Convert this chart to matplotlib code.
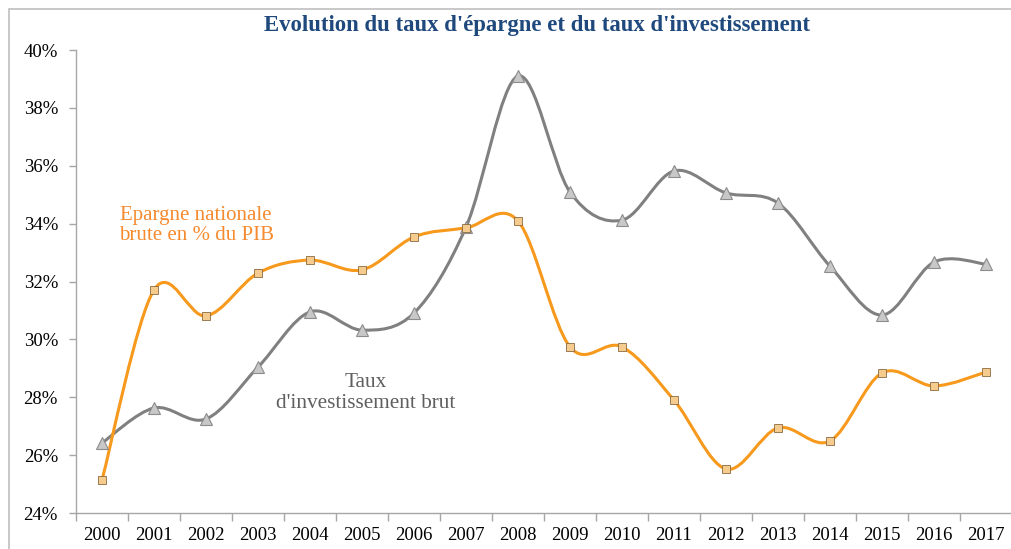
import matplotlib
matplotlib.use("Agg")
import matplotlib.pyplot as plt
from matplotlib.path import Path
from matplotlib.patches import PathPatch, Rectangle
from matplotlib.ticker import FixedLocator, NullFormatter

years = ["2000", "2001", "2002", "2003", "2004", "2005", "2006", "2007", "2008",
         "2009", "2010", "2011", "2012", "2013", "2014", "2015", "2016", "2017"]
investissement = [26.42, 27.63, 27.25, 29.04, 30.95, 30.32, 30.91, 33.88, 39.10,
                  35.09, 34.12, 35.82, 35.06, 34.71, 32.53, 30.84, 32.67, 32.60]
epargne = [25.14, 31.71, 30.81, 32.29, 32.74, 32.40, 33.54, 33.85, 34.09,
           29.74, 29.74, 27.90, 25.52, 26.94, 26.49, 28.84, 28.39, 28.87]
yticks = [24, 26, 28, 30, 32, 34, 36, 38, 40]

title = "Evolution du taux d'épargne et du taux d'investissement"
label_ep = "Epargne nationale\nbrute en % du PIB"
label_inv = "Taux\nd'investissement brut"

serif = ["Liberation Serif", "DejaVu Serif"]

W, H = 1011, 549
fig = plt.figure(figsize=(W / 100, H / 100), dpi=100)
fig.patches.append(Rectangle((9 / W, -0.1), 1.1, 1 - 9 / H + 0.1, transform=fig.transFigure,
                             fill=False, edgecolor="#BFBFBF", linewidth=1.2))
ax = fig.add_axes([76 / W, 1 - 513 / H, (1012 - 76) / W, (513 - 50) / H])


def smooth_path(xs, ys):
    pts = list(zip(xs, ys))
    n = len(pts)
    verts = [pts[0]]
    codes = [Path.MOVETO]
    for i in range(n - 1):
        p0 = pts[i - 1] if i > 0 else pts[i]
        p1 = pts[i]
        p2 = pts[i + 1]
        p3 = pts[i + 2] if i + 2 < n else pts[i + 1]
        c1 = (p1[0] + (p2[0] - p0[0]) / 6, p1[1] + (p2[1] - p0[1]) / 6)
        c2 = (p2[0] - (p3[0] - p1[0]) / 6, p2[1] - (p3[1] - p1[1]) / 6)
        verts += [c1, c2, p2]
        codes += [Path.CURVE4] * 3
    return Path(verts, codes)


x = list(range(len(years)))
gray = "#808080"
orange = "#F7991C"

ax.add_patch(PathPatch(smooth_path(x, investissement), facecolor="none",
                       edgecolor=gray, linewidth=2.2, zorder=2))
ax.add_patch(PathPatch(smooth_path(x, epargne), facecolor="none",
                       edgecolor=orange, linewidth=2.2, zorder=2))
ax.plot(x, investissement, linestyle="none", marker="^", markersize=9,
        markerfacecolor="#C8C8C8", markeredgecolor="#8C8C8C", markeredgewidth=0.8, zorder=3)
ax.plot(x, epargne, linestyle="none", marker="s", markersize=6,
        markerfacecolor="#F6CB8E", markeredgecolor="#8A6A40", markeredgewidth=0.6, zorder=4)

ax.set_xlim(-0.5, len(years) - 0.5)
ax.set_ylim(24, 40)
ax.set_yticks(yticks)
ax.set_yticklabels([f"{v}%" for v in yticks], fontfamily=serif, fontsize=13.5)
ax.set_xticks(x)
ax.set_xticklabels(years, fontfamily=serif, fontsize=13.5)
ax.tick_params(axis="x", which="major", length=0, pad=10)
ax.xaxis.set_minor_locator(FixedLocator([i - 0.5 for i in range(len(years) + 1)]))
ax.xaxis.set_minor_formatter(NullFormatter())
ax.tick_params(axis="x", which="minor", length=6, color="#A6A6A6", width=1)
ax.tick_params(axis="y", length=5, color="#A6A6A6", width=1, pad=8)

for s in ["top", "right"]:
    ax.spines[s].set_visible(False)
for s in ["left", "bottom"]:
    ax.spines[s].set_color("#A6A6A6")
    ax.spines[s].set_linewidth(1)

fig.text(537 / W, 1 - 26 / H, title, ha="center", va="center", fontfamily=serif,
         fontsize=16.4, fontweight="bold", color="#1F497D")
ax.text(1.81, 33.93, label_ep, ha="center", va="center", fontfamily=serif,
        fontsize=15, color="#F58A2E", linespacing=1.1)
ax.text(5.08, 28.15, label_inv, ha="center", va="center", fontfamily=serif,
        fontsize=15.3, color="#5F5F5F", linespacing=1.1)

fig.savefig("out.png", dpi=100)
